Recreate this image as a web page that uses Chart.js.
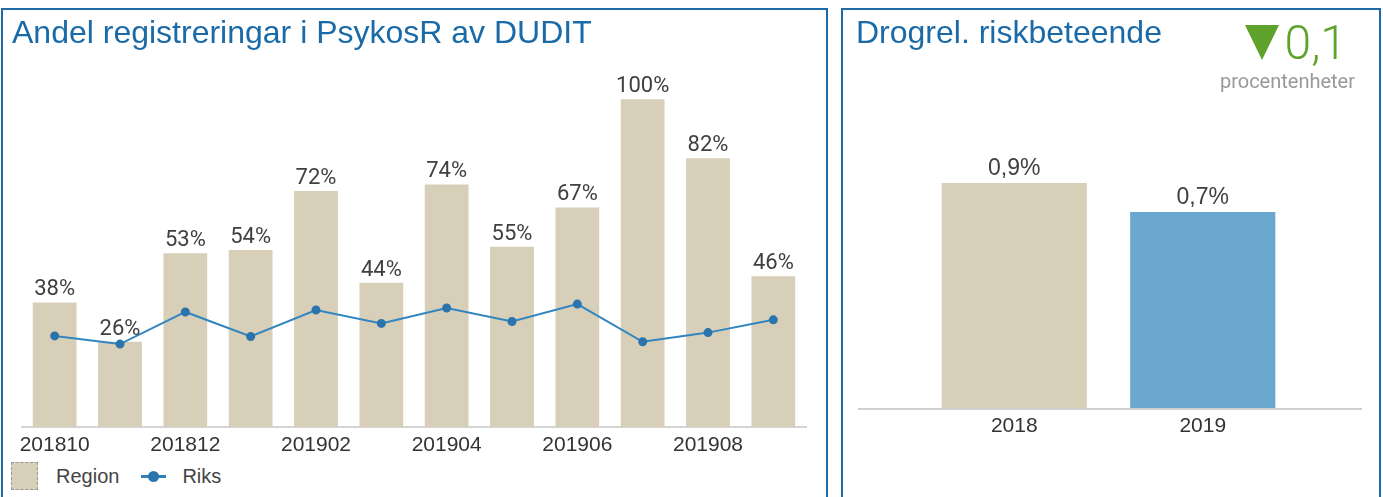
<!DOCTYPE html>
<html lang="sv">
<head>
<meta charset="UTF-8">
<title>DUDIT</title>
<script src="https://cdn.jsdelivr.net/npm/chart.js"></script>
<style>
body{margin:0;background:#fff;font-family:"Liberation Sans",Arial,sans-serif;width:1383px;height:497px;overflow:hidden;position:relative;}
.panel{position:absolute;top:8px;height:500px;border:2px solid #1f6aa6;box-sizing:border-box;}
#leftPanel{left:1px;width:827px;}
#rightPanel{left:841px;width:540px;}
.title{position:absolute;color:#1a6aa8;font-size:32px;line-height:1;white-space:nowrap;}
#leftTitle{left:12px;top:16px;}
#rightTitle{left:856px;top:16px;}
#tri{position:absolute;left:1245px;top:25px;width:0;height:0;border-left:17px solid transparent;border-right:17px solid transparent;border-top:35px solid #5ea22b;}
#change{position:absolute;right:36px;top:19px;color:#5ea22b;font-family:Roboto,sans-serif;font-weight:300;font-size:48px;line-height:1;white-space:nowrap;}
#unit{position:absolute;right:28px;top:71px;color:#999;font-family:Roboto,sans-serif;font-size:20px;line-height:1;}
#leftWrap{position:absolute;left:0;top:0;width:830px;height:456px;}
#rightWrap{position:absolute;left:842px;top:0;width:538px;height:437px;}
#legend{position:absolute;left:11px;top:462px;font-size:20px;color:#444;}
#legend span{display:inline-block;vertical-align:middle;}
.sw{width:25px;height:26px;background:#d8cfb9;border:1px dashed #999;margin-right:18px;}
.ln{width:25px;height:3px;background:#2f80bb;position:relative;margin-left:22px;margin-right:16px;}
.ln:after{content:"";position:absolute;left:7px;top:-4px;width:11px;height:11px;border-radius:50%;background:#2b74ae;}
</style>
</head>
<body>
<div class="panel" id="leftPanel"></div>
<div class="panel" id="rightPanel"></div>
<div id="leftWrap"><canvas id="monthChart"></canvas></div>
<div id="rightWrap"><canvas id="yearChart"></canvas></div>
<div class="title" id="leftTitle">Andel registreringar i PsykosR av DUDIT</div>
<div class="title" id="rightTitle">Drogrel. riskbeteende</div>
<div id="tri"></div>
<div id="change">0,1</div>
<div id="unit">procentenheter</div>
<div id="legend"><span class="sw"></span><span>Region</span><span class="ln"></span><span>Riks</span></div>
<script>
var months = ['201810','201811','201812','201901','201902','201903','201904','201905','201906','201907','201908','201909'];
var regionValues = [38, 26, 53, 54, 72, 44, 74, 55, 67, 100, 82, 46];
var riksValues = [27.8, 25.3, 35.1, 27.6, 35.7, 31.6, 36.3, 32.2, 37.5, 26.0, 28.8, 32.7];

var years = ['2018', '2019'];
var yearValues = [0.86, 0.749];
var yearColors = ['#d8cfb9', '#6aa8cf'];

Chart.defaults.font.family = '"Liberation Sans", Arial, sans-serif';
Chart.defaults.color = '#333';

// writes the value above each bar
var barLabels = {
    id: 'barLabels',
    afterDatasetsDraw: function(chart, args, opts) {
        var ctx = chart.ctx;
        var meta = chart.getDatasetMeta(0);
        ctx.save();
        ctx.font = opts.font;
        ctx.fillStyle = '#404040';
        ctx.textAlign = 'center';
        ctx.textBaseline = 'alphabetic';
        meta.data.forEach(function(bar, i) {
            var v = chart.data.datasets[0].data[i];
            ctx.fillText(opts.format(v), bar.x, bar.y - opts.gap);
        });
        ctx.restore();
    }
};

new Chart(document.getElementById('monthChart'), {
    type: 'bar',
    data: {
        labels: months,
        datasets: [{
            label: 'Region',
            data: regionValues,
            backgroundColor: '#d8cfb9',
            barPercentage: 0.67,
            categoryPercentage: 1,
            order: 2
        }, {
            type: 'line',
            label: 'Riks',
            data: riksValues,
            borderColor: '#3185c0',
            borderWidth: 2,
            pointRadius: 3.5,
            pointBackgroundColor: '#2b74ae',
            pointBorderColor: '#2b74ae',
            tension: 0,
            order: 1
        }]
    },
    options: {
        responsive: true,
        maintainAspectRatio: false,
        animation: false,
        layout: { padding: { left: 22, right: 24, top: 36, bottom: 0 } },
        plugins: {
            legend: { display: false },
            tooltip: { enabled: false },
            barLabels: {
                font: '22px Roboto, sans-serif',
                gap: 7,
                format: function(v) { return v + '%'; }
            }
        },
        scales: {
            x: {
                grid: { display: false },
                border: { color: '#d4d4d4', width: 2 },
                ticks: {
                    autoSkip: false,
                    maxRotation: 0,
                    color: '#333',
                    font: { size: 21, lineHeight: 1 },
                    padding: 0,
                    callback: function(val, i) { return i % 2 === 0 ? months[i] : ''; }
                }
            },
            y: { display: false, min: 0, max: 119.3 }
        }
    },
    plugins: [barLabels]
});

// long baseline under the two year bars
var baseLine = {
    id: 'baseLine',
    beforeDatasetsDraw: function(chart) {
        var ctx = chart.ctx;
        var y = chart.chartArea.bottom;
        ctx.save();
        ctx.strokeStyle = '#d0d0d0';
        ctx.lineWidth = 2;
        ctx.beginPath();
        ctx.moveTo(16, y + 1);
        ctx.lineTo(520, y + 1);
        ctx.stroke();
        ctx.restore();
    }
};

new Chart(document.getElementById('yearChart'), {
    type: 'bar',
    data: {
        labels: years,
        datasets: [{
            label: 'Drogrel. riskbeteende',
            data: yearValues,
            backgroundColor: yearColors,
            barPercentage: 0.77,
            categoryPercentage: 1
        }]
    },
    options: {
        responsive: true,
        maintainAspectRatio: false,
        animation: false,
        layout: { padding: { left: 78, right: 83, top: 58, bottom: 0 } },
        plugins: {
            legend: { display: false },
            tooltip: { enabled: false },
            barLabels: {
                font: '23px "Liberation Sans", Arial, sans-serif',
                gap: 8,
                format: function(v) { return v.toFixed(1).replace('.', ',') + '%'; }
            }
        },
        scales: {
            x: {
                grid: { display: false },
                border: { display: false },
                ticks: { color: '#333', font: { size: 21, lineHeight: 1 }, padding: 0 }
            },
            y: { display: false, min: 0, max: 1.338 }
        }
    },
    plugins: [barLabels, baseLine]
});
</script>
</body>
</html>
